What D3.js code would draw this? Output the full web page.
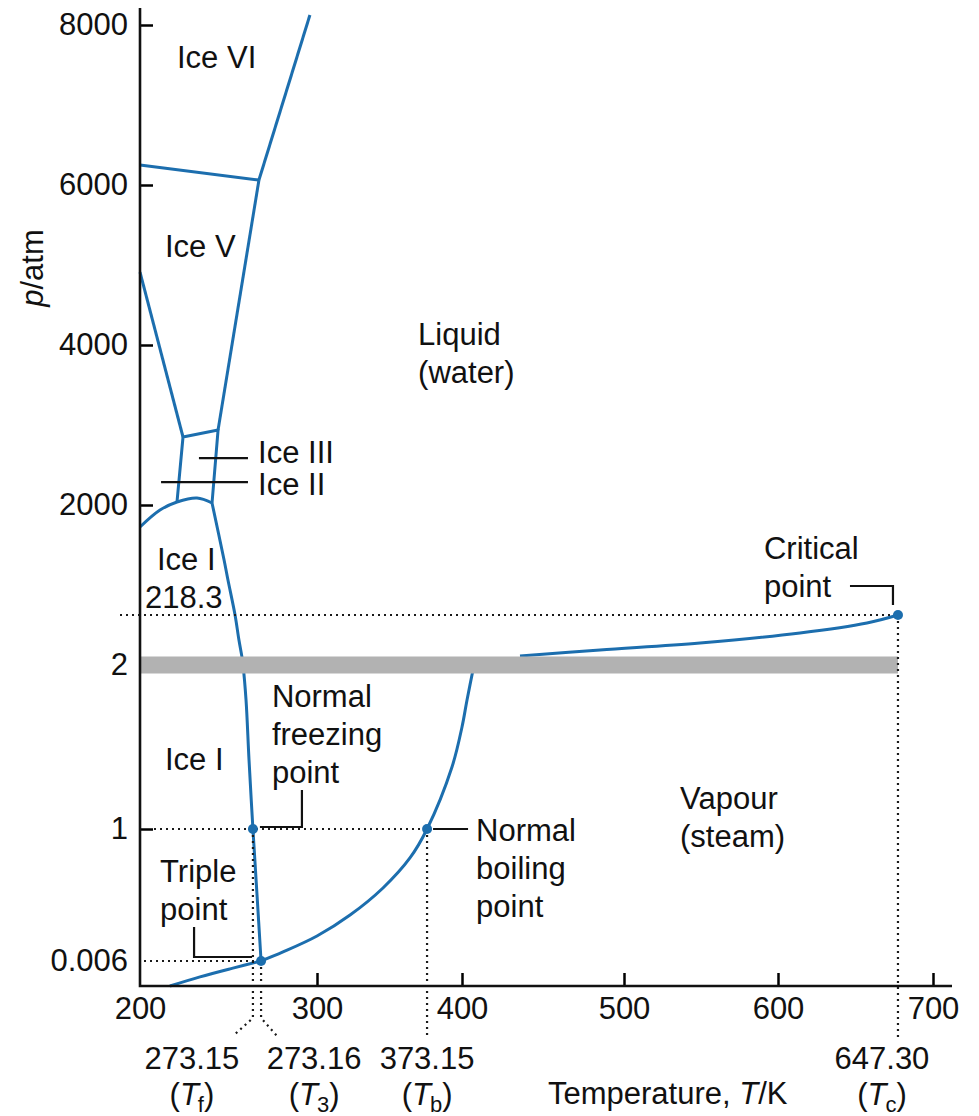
<!DOCTYPE html>
<html>
<head>
<meta charset="utf-8">
<script src="https://cdn.jsdelivr.net/npm/d3@7/dist/d3.min.js"></script>
<style>
  body { margin: 0; background: #fff; }
  svg { font-family: "Liberation Sans", Arial, Helvetica, sans-serif; }
</style>
</head>
<body>
<div class="chart"></div>
<script>
// phase diagram of water -- schematic, the axes are not drawn to scale

// axis ticks
var tempTicks = [200, 300, 400, 500, 600, 700];
var presTicks = [0.006, 1, 2, 2000, 4000, 6000, 8000];
var presTickLabels = ["0.006", "1", "2", "2000", "4000", "6000", "8000"];

// special points [T, p] as placed on the drawn axes, with their printed values
var triplePt = [268.4, 0.006];
var freezePt = [263.8, 1];
var boilPt = [375.9, 1];
var critPt = [677.4, 218.3];
var pointLabels = ["273.16", "273.15", "373.15", "647.30"];

// curved phase boundaries, [T (K), p (atm)]
var sublimation = [[216.9, 0], [233.9, 0.0022], [252.5, 0.0043], [268.4, 0.006]];
var melting = [[268.4, 0.006], [266.1, 0.507], [263.8, 1], [261.6, 1.42], [259.9, 1.787], [258.2, 2],
  [257.6, 36.6], [255.9, 110], [253.7, 218.3], [249.7, 785], [247.5, 1109], [240.7, 2025]];
var vapourLow = [[268.4, 0.006], [280.8, 0.074], [300, 0.194], [322.8, 0.352], [345.5, 0.556],
  [364.1, 0.782], [375.9, 1], [393.1, 1.378], [400, 1.622], [403.1, 1.787], [407.4, 2]];
var vapourHigh = [[435.8, 40.9], [485.2, 66.9], [549.4, 97.2], [614.2, 140.4],
  [657.4, 183.7], [677.4, 218.3]];
var iceItop = [[200, 1644], [211.3, 1919], [220.9, 2037], [232.2, 2087], [240.7, 2025]];

// straight phase boundaries
var iceIIIbox = [[220.9, 2037], [224.3, 2850], [244.1, 2937], [240.7, 2025]];
var iceIIiceV = [[200, 4912], [224.3, 2850]];
var iceVliquid = [[244.1, 2937], [267.2, 6062]];
var iceViceVI = [[200, 6250], [267.2, 6062]];
var iceVIliquid = [[267.2, 6062], [296, 8125]];

var curved = [sublimation, melting, vapourLow, vapourHigh, iceItop];
var straightLines = [iceIIIbox, iceIIiceV, iceVliquid, iceViceVI, iceVIliquid];

// region names, anchored at [T, p]
var regionNames = [
  { at: [220.9, 7462], lines: ["Ice VI"] },
  { at: [214.1, 5100], lines: ["Ice V"] },
  { at: [369.7, 4000], lines: ["Liquid", "(water)"] },
  { at: [209.6, 947], lines: ["Ice I"] },
  { at: [214.1, 1.36], lines: ["Ice I"] },
  { at: [536.4, 1.12], lines: ["Vapour", "(steam)"] }
];

var width = 979, height = 1116;
var blue = "#1c6eae";
var fs = 31, lh = 38;

var x = d3.scaleLinear().domain(tempTicks).range([140, 317, 462, 624, 778, 933]);
var y = d3.scaleLinear()
  .domain([0, 0.006, 1, 2, 218.3, 2000, 8000])
  .range([986, 961, 829, 665, 615, 505, 25]);

var svg = d3.select(".chart").append("svg")
  .attr("width", width)
  .attr("height", height);

var smooth = d3.line()
  .x(d => x(d[0]))
  .y(d => y(d[1]))
  .curve(d3.curveCatmullRom.alpha(0.5));
var linear = d3.line()
  .x(d => x(d[0]))
  .y(d => y(d[1]));
var straight = d3.line();

// phase boundaries
var gb = svg.append("g")
  .attr("fill", "none")
  .attr("stroke", blue)
  .attr("stroke-width", 3)
  .attr("stroke-linejoin", "round");
gb.selectAll(".curved")
  .data(curved)
  .enter().append("path")
  .attr("class", "curved")
  .attr("d", smooth);
gb.selectAll(".straight")
  .data(straightLines)
  .enter().append("path")
  .attr("class", "straight")
  .attr("d", linear);

// axis break band
var y0 = y(0);
svg.append("rect")
  .attr("x", x(200) + 1)
  .attr("y", y(2) - 8.5)
  .attr("width", x(critPt[0]) - x(200) - 1)
  .attr("height", 17)
  .attr("fill", "#b2b2b2");

// dotted guides
var guides = [
  [[x(200) - 20, y(critPt[1])], [x(critPt[0]), y(critPt[1])]],
  [[x(200) + 14, y(1)], [x(boilPt[0]), y(1)]],
  [[x(200) + 4, y(triplePt[1])], [x(triplePt[0]), y(triplePt[1])]],
  [[x(freezePt[0]), y(freezePt[1])], [x(freezePt[0]), y0 + 32], [x(freezePt[0]) - 20, y0 + 50]],
  [[x(triplePt[0]), y(triplePt[1])], [x(triplePt[0]), y0 + 32], [x(triplePt[0]) + 16, y0 + 50]],
  [[x(boilPt[0]), y(boilPt[1])], [x(boilPt[0]), y0 + 52]],
  [[x(critPt[0]), y(critPt[1])], [x(critPt[0]), y0 + 52]]
];
svg.append("g").selectAll("path")
  .data(guides)
  .enter().append("path")
  .attr("d", straight)
  .attr("fill", "none")
  .attr("stroke", "#1a1a1a")
  .attr("stroke-width", 2.2)
  .attr("stroke-dasharray", "2,4");

// special points
svg.append("g").selectAll("circle")
  .data([triplePt, freezePt, boilPt, critPt])
  .enter().append("circle")
  .attr("cx", d => x(d[0]))
  .attr("cy", d => y(d[1]))
  .attr("r", 5)
  .attr("fill", blue);

// axes
var yAxis = d3.axisLeft(y)
  .tickValues(presTicks)
  .tickFormat((d, i) => presTickLabels[i])
  .tickSize(-13)
  .tickPadding(12);
var gy = svg.append("g")
  .attr("transform", `translate(${x(200)},0)`)
  .call(yAxis)
  .attr("font-size", fs)
  .attr("font-family", null);
gy.select(".domain").remove();
gy.selectAll(".tick line").filter(d => d === 0.006 || d === 2).remove();

var xAxis = d3.axisBottom(x)
  .tickValues(tempTicks)
  .tickSize(-13)
  .tickPadding(11);
var gx = svg.append("g")
  .attr("transform", `translate(0,${y0})`)
  .call(xAxis)
  .attr("font-size", fs)
  .attr("font-family", null);
gx.select(".domain").remove();
gx.selectAll(".tick line").filter(d => d === 200).remove();

svg.selectAll(".tick line").attr("stroke-width", 2.5);
svg.selectAll(".tick text").attr("fill", "#111");

svg.append("path")
  .attr("d", straight([[x(200), 8], [x(200), y0], [952, y0]]))
  .attr("fill", "none")
  .attr("stroke", "#111")
  .attr("stroke-width", 2.6);

// text helpers
var txt = svg.append("g").attr("font-size", fs).attr("fill", "#111");

function block(px, py, lines, anchor) {
  var t = txt.append("text").attr("x", px).attr("y", py).attr("text-anchor", anchor || "start");
  lines.forEach((s, i) => t.append("tspan").attr("x", px).attr("dy", i ? lh : 0).text(s));
  return t;
}

function leader(pts) {
  svg.append("path")
    .attr("d", straight(pts))
    .attr("fill", "none")
    .attr("stroke", "#111")
    .attr("stroke-width", 2.2);
}

function symbol(t, sub) {
  t.append("tspan").text("(");
  t.append("tspan").attr("font-style", "italic").text("T");
  t.append("tspan").attr("font-size", 22).attr("dx", -1).attr("dy", 7).text(sub);
  t.append("tspan").attr("dy", -7).text(")");
}

regionNames.forEach(r => block(x(r.at[0]), y(r.at[1]), r.lines));

// 218.3 label on its guide
block(x(200) + 5, y(critPt[1]) - 7, ["218.3"]);

// ice II and ice III callouts
leader([[x(233.3), y(2587)], [x(261), y(2587)]]);
block(x(266.7), y(2525), ["Ice III"]);
leader([[x(211.9), y(2287)], [x(261), y(2287)]]);
block(x(266.7), y(2125), ["Ice II"]);

// freezing point callout
var fx = x(freezePt[0]), fy = y(freezePt[1]);
leader([[fx + 7, fy - 2], [fx + 49, fy - 2], [fx + 49, fy - 39]]);
block(fx + 19, fy - 122, ["Normal", "freezing", "point"]);

// boiling point callout
var bx = x(boilPt[0]), by = y(boilPt[1]);
leader([[bx + 6, by], [bx + 41, by]]);
block(bx + 49, by + 12, ["Normal", "boiling", "point"]);

// triple point callout
var tx = x(triplePt[0]), ty = y(triplePt[1]);
leader([[tx - 67, ty - 34], [tx - 67, ty - 4], [tx - 9, ty - 4]]);
block(tx - 101, ty - 79, ["Triple", "point"]);

// critical point callout
var cx = x(critPt[0]), cy = y(critPt[1]);
leader([[cx - 48, cy - 29], [cx - 5, cy - 29], [cx - 5, cy - 10]]);
block(cx - 134, cy - 56, ["Critical", "point"]);

// printed temperatures under the axis
var under = [
  { x: fx - 61, label: pointLabels[1], sub: "f" },
  { x: tx + 53, label: pointLabels[0], sub: "3" },
  { x: bx, label: pointLabels[2], sub: "b" },
  { x: cx - 16, label: pointLabels[3], sub: "c" }
];
under.forEach(u => {
  block(u.x, y0 + 83, [u.label], "middle");
  symbol(txt.append("text").attr("x", u.x).attr("y", y0 + 119).attr("text-anchor", "middle"), u.sub);
});

// axis titles
var xt = txt.append("text").attr("x", 548).attr("y", y0 + 118);
xt.append("tspan").text("Temperature, ");
xt.append("tspan").attr("font-style", "italic").text("T");
xt.append("tspan").text("/K");

var yt = txt.append("text")
  .attr("transform", "translate(43,268) rotate(-90)")
  .attr("text-anchor", "middle");
yt.append("tspan").attr("font-style", "italic").text("p");
yt.append("tspan").text("/atm");
</script>
</body>
</html>
